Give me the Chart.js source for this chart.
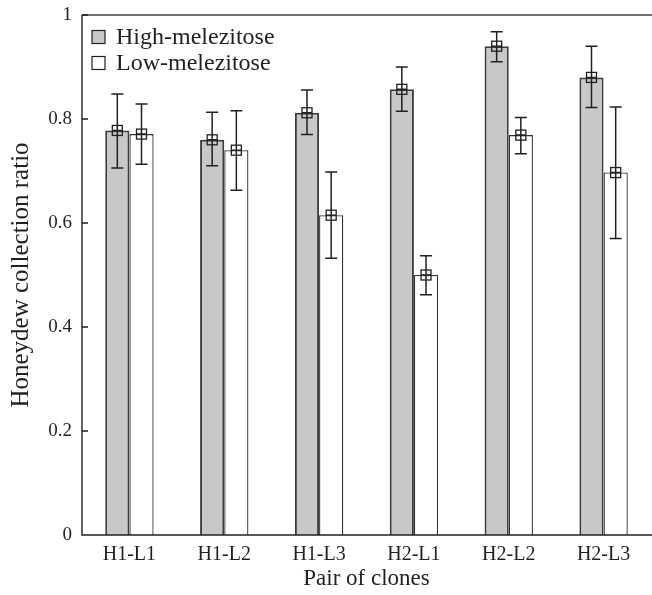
<!DOCTYPE html>
<html>
<head>
<meta charset="utf-8">
<script src="https://cdn.jsdelivr.net/npm/chart.js@4"></script>
<style>
  html, body { margin: 0; padding: 0; background: #fff; }
  #wrap { width: 652px; height: 595px; position: relative; }
</style>
</head>
<body>
<div id="wrap"><canvas id="c" width="652" height="595"></canvas></div>
<script>
// ---- data ----
const categories = ["H1-L1", "H1-L2", "H1-L3", "H2-L1", "H2-L2", "H2-L3"];
const seriesNames = ["High-melezitose", "Low-melezitose"];
const highValues = [0.778, 0.760, 0.812, 0.857, 0.940, 0.880];
const highLower  = [0.706, 0.710, 0.770, 0.815, 0.910, 0.822];
const highUpper  = [0.848, 0.813, 0.856, 0.900, 0.968, 0.940];
const lowValues  = [0.771, 0.740, 0.615, 0.500, 0.769, 0.697];
const lowLower   = [0.713, 0.663, 0.532, 0.462, 0.733, 0.570];
const lowUpper   = [0.829, 0.816, 0.698, 0.537, 0.803, 0.823];
const yTicks = [0, 0.2, 0.4, 0.6, 0.8, 1];

const INK = '#231f20';
const FONT = "'Liberation Serif', 'DejaVu Serif', serif";

const errorBarPlugin = {
  id: 'errorBars',
  afterDatasetsDraw(chart) {
    const ctx = chart.ctx;
    const y = chart.scales.y;
    chart.data.datasets.forEach((ds, di) => {
      const meta = chart.getDatasetMeta(di);
      meta.data.forEach((bar, i) => {
        const x = bar.x;
        const yv = y.getPixelForValue(ds.data[i]);
        const ylo = y.getPixelForValue(ds.errLow[i]);
        const yhi = y.getPixelForValue(ds.errHigh[i]);
        ctx.save();
        ctx.strokeStyle = INK;
        ctx.lineWidth = 1.5;
        ctx.beginPath();
        ctx.moveTo(x, ylo); ctx.lineTo(x, yhi);
        ctx.moveTo(x - 6, ylo); ctx.lineTo(x + 6, ylo);
        ctx.moveTo(x - 6, yhi); ctx.lineTo(x + 6, yhi);
        ctx.moveTo(x - 5, yv); ctx.lineTo(x + 5, yv);
        ctx.stroke();
        ctx.lineWidth = 1.3;
        ctx.strokeRect(x - 5, yv - 5, 10, 10);
        ctx.restore();
      });
    });
  }
};

const framePlugin = {
  id: 'frame',
  afterDraw(chart) {
    const ctx = chart.ctx;
    const a = chart.chartArea;
    const y = chart.scales.y;
    ctx.save();
    ctx.strokeStyle = '#444';
    ctx.lineWidth = 1.6;
    ctx.beginPath();
    ctx.moveTo(a.left, a.top); ctx.lineTo(chart.width, a.top);
    ctx.stroke();
    ctx.strokeStyle = INK;
    ctx.lineWidth = 1.4;
    ctx.beginPath();
    ctx.moveTo(a.left, a.top); ctx.lineTo(a.left, a.bottom);
    ctx.lineTo(chart.width, a.bottom);
    yTicks.forEach(v => {
      const py = y.getPixelForValue(v);
      ctx.moveTo(a.left, py); ctx.lineTo(a.left + 6, py);
    });
    ctx.stroke();

    // legend
    ctx.font = "24px " + FONT;
    ctx.textBaseline = 'middle';
    chart.data.datasets.forEach((ds, di) => {
      const lx = a.left + 10;
      const ly = a.top + 22 + di * 26;
      ctx.fillStyle = ds.backgroundColor;
      ctx.fillRect(lx, ly - 6.5, 13, 13);
      ctx.strokeStyle = INK;
      ctx.lineWidth = 1.2;
      ctx.strokeRect(lx, ly - 6.5, 13, 13);
      ctx.fillStyle = INK;
      ctx.fillText(ds.label, lx + 24, ly + 1);
    });
    ctx.restore();
  }
};

new Chart(document.getElementById('c'), {
  type: 'bar',
  data: {
    labels: categories,
    datasets: [
      { label: seriesNames[0], data: highValues, errLow: highLower, errHigh: highUpper,
        backgroundColor: '#c7c8ca', borderColor: '#3d3d3d', borderWidth: 2, borderSkipped: 'bottom' },
      { label: seriesNames[1], data: lowValues, errLow: lowLower, errHigh: lowUpper,
        backgroundColor: '#ffffff', borderColor: '#333333', borderWidth: 1.3, borderSkipped: 'bottom' }
    ]
  },
  options: {
    responsive: false,
    animation: false,
    layout: { padding: { top: 15, right: 1, left: 0, bottom: 0 } },
    datasets: { bar: { categoryPercentage: 0.51, barPercentage: 1.0 } },
    plugins: { legend: { display: false }, tooltip: { enabled: false } },
    scales: {
      x: {
        grid: { display: false, drawTicks: false },
        border: { display: false },
        ticks: { color: INK, font: { family: FONT, size: 20 }, padding: 8, maxRotation: 0 },
        title: { display: true, text: 'Pair of clones', color: INK, font: { family: FONT, size: 23 }, padding: { top: 2, bottom: 2 } },
        afterFit(s) { s.height = 60; s.paddingLeft = 0; s.paddingRight = 0; }
      },
      y: {
        min: 0, max: 1,
        afterBuildTicks(s) { s.ticks = yTicks.map(v => ({ value: v })); },
        grid: { display: false, drawTicks: false },
        border: { display: false },
        ticks: { color: INK, font: { family: FONT, size: 19 }, padding: 10,
          callback: v => String(v) },
        title: { display: true, text: 'Honeydew collection ratio', color: INK, font: { family: FONT, size: 25 }, padding: { top: 6, bottom: 4 } },
        afterFit(s) { s.width = 82; s.paddingTop = 0; s.paddingBottom = 0; }
      }
    }
  },
  plugins: [errorBarPlugin, framePlugin]
});
</script>
</body>
</html>
